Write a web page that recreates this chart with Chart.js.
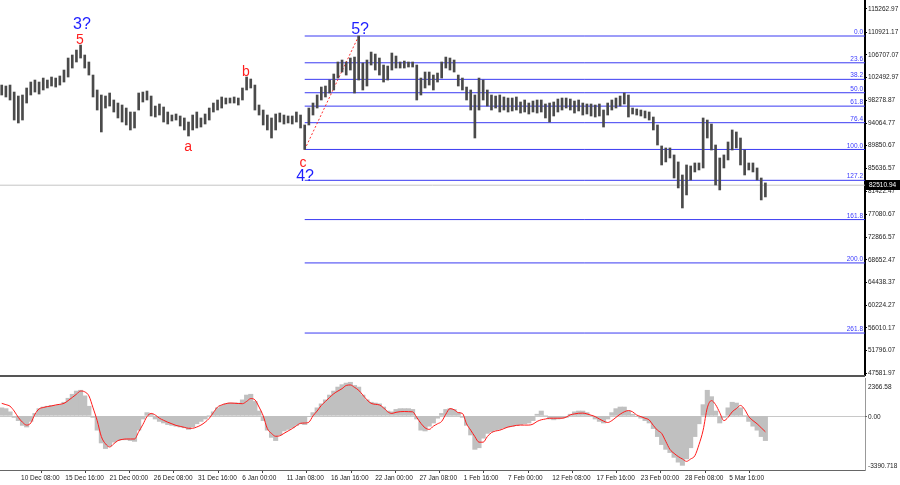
<!DOCTYPE html>
<html>
<head>
<meta charset="utf-8">
<script src="https://cdn.jsdelivr.net/npm/chart.js@4.4.1/dist/chart.umd.min.js"></script>
<style>
  html, body { margin: 0; padding: 0; background: #fff; }
  #wrap { position: relative; width: 900px; height: 485px; overflow: hidden; }
  #price { position: absolute; left: 0; top: 0; }
  #macd { position: absolute; left: 0; top: 377px; }
</style>
</head>
<body>
<div id="wrap">
  <canvas id="price" width="900" height="377"></canvas>
  <canvas id="macd" width="900" height="108"></canvas>
</div>
<script>
/* BTC H4 with fib grid + MACD pane. Time axis = hours since 5 Dec 00:00. */
const FONT = "'Liberation Sans', Arial, sans-serif";
const X_MIN = 73, X_MAX = 2574;
const FIRST_BAR = 78, BAR_HOURS = 12, TICK_HOURS = 128;
const PRICE_MIN = 47246, PRICE_MAX = 116921;
const MACD_MIN = -3390.718, MACD_MAX = 2366.58;

const xTickLabels = [
  "5 Dec 00:00", "10 Dec 08:00", "15 Dec 16:00", "21 Dec 00:00", "26 Dec 08:00", "31 Dec 16:00",
  "6 Jan 00:00", "11 Jan 08:00", "16 Jan 16:00", "22 Jan 00:00", "27 Jan 08:00", "1 Feb 16:00",
  "7 Feb 00:00", "12 Feb 08:00", "17 Feb 16:00", "23 Feb 00:00", "28 Feb 08:00", "5 Mar 16:00",
];
const priceTicks = [
  115262.97, 110921.17, 106707.07, 102492.97, 98278.87, 94064.77, 89850.67, 85636.57, 81422.47,
  77080.67, 72866.57, 68652.47, 64438.37, 60224.27, 56010.17, 51796.07, 47581.97,
];

const highs = [
  101120,100940,101120,99820,99080,99270,100570,101680,102050,101680,
  102420,102050,102610,102420,102800,103910,106140,106700,107620,108550,
  106700,105400,102980,100200,99270,99080,99640,98340,97780,97410,
  96850,96110,96110,99640,99820,100010,99080,97220,97600,97040,
  96110,95550,95740,95370,95000,94250,95550,96110,95000,95740,
  96850,97780,98340,98900,98710,98710,98900,98710,100570,102610,
  102240,101120,97410,96480,95550,95000,95740,95920,95550,95370,
  95370,96110,95550,93700,96850,97780,99270,100750,100940,102050,
  103170,105400,105770,105400,106140,106320,110230,105210,105770,107250,
  106880,106140,104840,104650,107070,106510,105400,105580,105400,105400,
  104840,102420,103540,103540,102980,103350,105400,106320,106140,105770,
  102980,102420,100750,100200,99270,102420,102050,100200,99270,99080,
  99270,98900,98710,98710,98900,97970,98340,97780,98150,98340,
  98340,97600,97780,97970,98520,98710,98710,98520,98150,98340,
  97780,97600,97600,97410,97600,96480,97780,98340,98710,99080,
  99640,99270,96850,96670,96480,96300,96110,95180,93700,89800,
  89430,89430,88130,86830,84410,86270,86080,86640,86640,95000,
  94620,93880,89980,87570,88130,90540,92770,92400,91280,89050,
  86640,86640,85710,83850,82930,
];
const lows = [
  99270,98900,98340,94620,94070,94620,97780,99270,99820,99450,
  100200,100570,100940,100750,101120,101680,102610,104280,105400,106140,
  104280,102980,98900,96480,92400,96850,97220,96110,95000,94250,
  93700,92770,93140,96480,97970,98340,95370,95180,95550,94250,
  93880,94440,94620,93510,92770,91650,92770,93140,93320,93880,
  94620,96110,96480,96850,97600,97780,97780,97410,98340,100200,
  100570,96480,95550,93700,92770,91280,92770,94250,93880,94070,
  93880,94250,93140,89150,93700,95550,96850,98340,98900,99640,
  100200,102420,103540,102980,103910,99640,102050,100200,100940,104840,
  103910,102980,101680,102050,103910,104280,104280,104280,104470,104470,
  98340,99270,100570,101120,100200,101680,102420,104280,103910,103540,
  100940,100200,98340,96480,91280,96480,98340,97220,96480,96850,
  96110,96480,96110,96300,96480,95920,96110,95740,96110,95920,
  96110,95000,94250,95370,96110,96480,96850,96480,95920,96300,
  95550,95740,95370,95180,95370,93320,95550,96480,96850,97220,
  97600,95180,95740,95550,95370,95000,94620,92770,89980,86270,
  86830,87570,83850,82000,78280,80700,83480,84970,85340,85710,
  91280,89050,82550,81630,85710,87200,89050,89430,86270,84410,
  85340,84970,83480,79770,80330,
];

const macdHist = [
  500,450,250,-100,-300,-600,-700,-350,150,450,
  550,600,650,650,700,850,1100,1350,1550,1600,
  1250,600,-100,-900,-1700,-2050,-1900,-1650,-1550,-1500,
  -1500,-1550,-1600,-900,-200,200,100,-200,-350,-450,
  -550,-600,-650,-700,-750,-850,-700,-500,-350,-200,
  0,250,500,650,750,800,800,800,1000,1300,
  1350,900,300,-300,-900,-1350,-1550,-1200,-950,-850,
  -750,-600,-500,-550,-50,200,500,750,1000,1300,
  1550,1800,1950,2050,2100,1900,1800,1300,1000,850,
  800,750,550,300,250,400,450,450,450,400,
  -200,-900,-950,-650,-450,-150,150,400,450,400,
  200,-100,-600,-1200,-2100,-2000,-1400,-1100,-1000,-900,
  -850,-750,-700,-650,-600,-550,-500,-450,-300,100,
  300,0,-200,-250,-200,-150,-100,100,250,300,
  300,200,0,-200,-350,-450,-200,200,450,550,
  550,300,100,-50,-150,-300,-450,-800,-1300,-1800,
  -2100,-2300,-2600,-2900,-3100,-2700,-2000,-1300,-500,700,
  1600,1200,300,-450,-100,500,850,800,500,0,
  -350,-650,-900,-1300,-1550,
];
const macdSignal = [
  780,700,600,300,-100,-400,-580,-450,100,430,
  520,580,620,680,720,780,950,1150,1350,1550,
  1500,1250,500,-300,-1300,-1750,-1950,-1750,-1550,-1480,
  -1450,-1450,-1450,-1000,-550,-50,150,50,-150,-280,
  -400,-500,-600,-660,-720,-780,-780,-700,-580,-400,
  -160,200,550,680,760,800,790,770,760,900,
  1080,1000,550,0,-800,-1100,-1280,-1250,-1100,-950,
  -800,-620,-470,-450,-400,0,300,650,900,1150,
  1380,1550,1700,1900,1930,1780,1600,1300,1000,780,
  720,680,500,250,150,220,260,270,260,250,
  -100,-470,-750,-850,-650,-500,-350,100,450,380,
  200,150,-500,-900,-1300,-1650,-1650,-1300,-1050,-950,
  -900,-800,-700,-650,-600,-580,-580,-580,-520,-350,
  -250,-200,-150,-150,-150,-150,-80,60,120,160,
  170,120,40,-50,-200,-330,-420,-300,-100,100,
  250,330,250,50,-50,-150,-260,-600,-900,-1100,
  -1600,-2100,-2350,-2550,-2700,-2850,-2700,-2500,-1800,-900,
  500,950,700,200,-300,-100,250,450,650,400,
  -50,-300,-500,-750,-1000,
];

// fib grid drawn from the 13 Jan low to the 20 Jan high
const fibLevels = ["0.0", "23.6", "38.2", "50.0", "61.8", "76.4", "100.0", "127.2", "161.8", "200.0", "261.8"];
const fibHigh = 110230, fibLow = 89150;
const fibStart = 954, fibTop = 1110;
const lastPrice = 82510.94;

const waveLabels = [
  { text: "3?", t: 310, p: 112260, kind: "major" },
  { text: "5", t: 304, p: 109480, kind: "minor" },
  { text: "a", t: 617, p: 89610, kind: "minor" },
  { text: "b", t: 784, p: 103540, kind: "minor" },
  { text: "c", t: 949, p: 86640, kind: "minor" },
  { text: "4?", t: 955, p: 84040, kind: "major" },
  { text: "5?", t: 1114, p: 111337, kind: "major" },
];
const WAVE_STYLE = {
  major: { color: "#1e1eff", size: 16 },
  minor: { color: "#ff1e1e", size: 14 },
};

/* ---------- helpers ---------- */
const barTime = (i) => FIRST_BAR + i * BAR_HOURS;
const fibPrice = (lvl) => fibHigh - (parseFloat(lvl) / 100) * (fibHigh - fibLow);

const candleData = highs.map((h, i) => ({ x: barTime(i), y: [lows[i], h] }));
const histData = macdHist.map((v, i) => ({ x: barTime(i), y: v }));
const signalData = macdSignal.map((v, i) => ({ x: barTime(i), y: v }));

const fibSets = fibLevels.map((l) => ({
  type: "line", order: 2,
  data: [{ x: fibStart, y: fibPrice(l) }, { x: X_MAX, y: fibPrice(l) }],
  borderColor: "#3a3af2", borderWidth: 1, pointRadius: 0,
}));

/* ---------- price pane ---------- */
const priceOverlay = {
  id: "priceOverlay",
  afterDatasetsDraw(chart) {
    const { ctx, chartArea: a, scales: { x, y } } = chart;
    ctx.save();
    ctx.font = `6.5px ${FONT}`;
    ctx.fillStyle = "#3a3aff";
    ctx.textAlign = "right";
    ctx.textBaseline = "bottom";
    fibLevels.forEach((l) => ctx.fillText(l, a.right - 2, y.getPixelForValue(fibPrice(l)) - 0.5));

    ctx.textAlign = "center";
    ctx.textBaseline = "middle";
    waveLabels.forEach((w) => {
      const s = WAVE_STYLE[w.kind];
      ctx.font = `${s.size}px ${FONT}`;
      ctx.fillStyle = s.color;
      ctx.fillText(w.text, x.getPixelForValue(w.t), y.getPixelForValue(w.p));
    });

    ctx.fillStyle = "#555";
    ctx.fillRect(0, a.bottom, a.right, 2);
    ctx.restore();
  },
  afterDraw(chart) {
    const { ctx, chartArea: a, scales: { y } } = chart;
    const py = Math.round(y.getPixelForValue(lastPrice));
    ctx.save();
    ctx.fillStyle = "#000";
    ctx.fillRect(a.right + 1, py - 5, 35, 10);
    ctx.fillStyle = "#fff";
    ctx.font = `6.5px ${FONT}`;
    ctx.textAlign = "left";
    ctx.textBaseline = "middle";
    ctx.fillText(lastPrice.toFixed(2), a.right + 4, py);
    ctx.restore();
  },
};

new Chart(document.getElementById("price"), {
  type: "bar",
  data: {
    datasets: [
      { type: "bar", order: 0, data: candleData, backgroundColor: "#4a4a4a", barThickness: 2, grouped: false },
      ...fibSets,
      {
        type: "line", order: 1,
        data: [{ x: fibStart, y: fibLow }, { x: fibTop, y: fibHigh }],
        borderColor: "#ff3030", borderWidth: 1, borderDash: [2, 2], pointRadius: 0,
      },
      {
        type: "line", order: 3,
        data: [{ x: X_MIN, y: lastPrice }, { x: X_MAX, y: lastPrice }],
        borderColor: "#c4c4c4", borderWidth: 1, pointRadius: 0,
      },
    ],
  },
  options: {
    responsive: false, animation: false, devicePixelRatio: 1,
    layout: { padding: { left: 0, right: 0, top: 0, bottom: 2 } },
    plugins: { legend: { display: false }, tooltip: { enabled: false } },
    scales: {
      x: { type: "linear", min: X_MIN, max: X_MAX, offset: false, display: false },
      y: {
        position: "right", min: PRICE_MIN, max: PRICE_MAX,
        afterBuildTicks: (s) => { s.ticks = priceTicks.map((v) => ({ value: v })); },
        afterFit: (s) => { s.width = 35; s.paddingTop = 0; s.paddingBottom = 0; },
        grid: { drawOnChartArea: false, tickLength: 2, color: "#000" },
        border: { color: "#000", width: 2 },
        ticks: { font: { family: FONT, size: 6.5 }, color: "#222", padding: 1, callback: (v) => v.toFixed(2) },
      },
    },
  },
  plugins: [priceOverlay],
});

/* ---------- MACD pane ---------- */
const macdOverlay = {
  id: "macdOverlay",
  beforeDatasetsDraw(chart) {
    const { ctx, chartArea: a, scales: { y } } = chart;
    const zy = Math.round(y.getPixelForValue(0)) + 0.5;
    ctx.save();
    ctx.strokeStyle = "#c8c8c8";
    ctx.lineWidth = 1;
    ctx.beginPath(); ctx.moveTo(a.left, zy); ctx.lineTo(a.right, zy); ctx.stroke();
    ctx.restore();
  },
  afterDraw(chart) {
    const { ctx, chartArea: a, scales: { y } } = chart;
    ctx.save();
    ctx.font = `6.5px ${FONT}`;
    ctx.fillStyle = "#222";
    ctx.textAlign = "left";
    ctx.textBaseline = "middle";
    ctx.fillText(MACD_MAX.toFixed(2), a.right + 3, y.getPixelForValue(MACD_MAX) + 9);
    ctx.fillText((0).toFixed(2), a.right + 3, y.getPixelForValue(0) + 1);
    ctx.fillText(MACD_MIN.toFixed(3), a.right + 3, y.getPixelForValue(MACD_MIN) - 4);
    ctx.fillStyle = "#666";
    ctx.fillRect(a.right, Math.round(y.getPixelForValue(0)), 2, 1);
    ctx.restore();
  },
};

new Chart(document.getElementById("macd"), {
  type: "bar",
  data: {
    datasets: [
      {
        type: "line", order: 0, data: signalData,
        borderColor: "#ff1a1a", borderWidth: 1, pointRadius: 0, cubicInterpolationMode: "monotone",
      },
      { type: "bar", order: 1, data: histData, backgroundColor: "#c0c0c0", barThickness: 4.4, grouped: false },
    ],
  },
  options: {
    responsive: false, animation: false, devicePixelRatio: 1,
    layout: { padding: { left: 0, right: 0, top: 1, bottom: 0 } },
    plugins: { legend: { display: false }, tooltip: { enabled: false } },
    scales: {
      x: {
        type: "linear", min: X_MIN, max: X_MAX, offset: false, position: "bottom",
        afterBuildTicks: (s) => {
          s.ticks = xTickLabels.map((_, i) => ({ value: i * TICK_HOURS })).filter((t) => t.value >= X_MIN);
        },
        afterFit: (s) => { s.height = 15; s.paddingLeft = 0; s.paddingRight = 0; },
        grid: { drawOnChartArea: false, tickLength: 3, color: "#444" },
        border: { color: "#666", width: 1 },
        ticks: {
          autoSkip: false, maxRotation: 0, minRotation: 0, align: "start", labelOffset: 2, padding: 1,
          font: { family: FONT, size: 6.5 }, color: "#222",
          callback: (v) => xTickLabels[Math.round(v / TICK_HOURS)],
        },
      },
      y: {
        position: "right", min: MACD_MIN, max: MACD_MAX,
        afterFit: (s) => { s.width = 35; s.paddingTop = 0; s.paddingBottom = 0; },
        grid: { drawOnChartArea: false, drawTicks: false },
        border: { color: "#999", width: 1 },
        ticks: { display: false },
      },
    },
  },
  plugins: [macdOverlay],
});
</script>
</body>
</html>
